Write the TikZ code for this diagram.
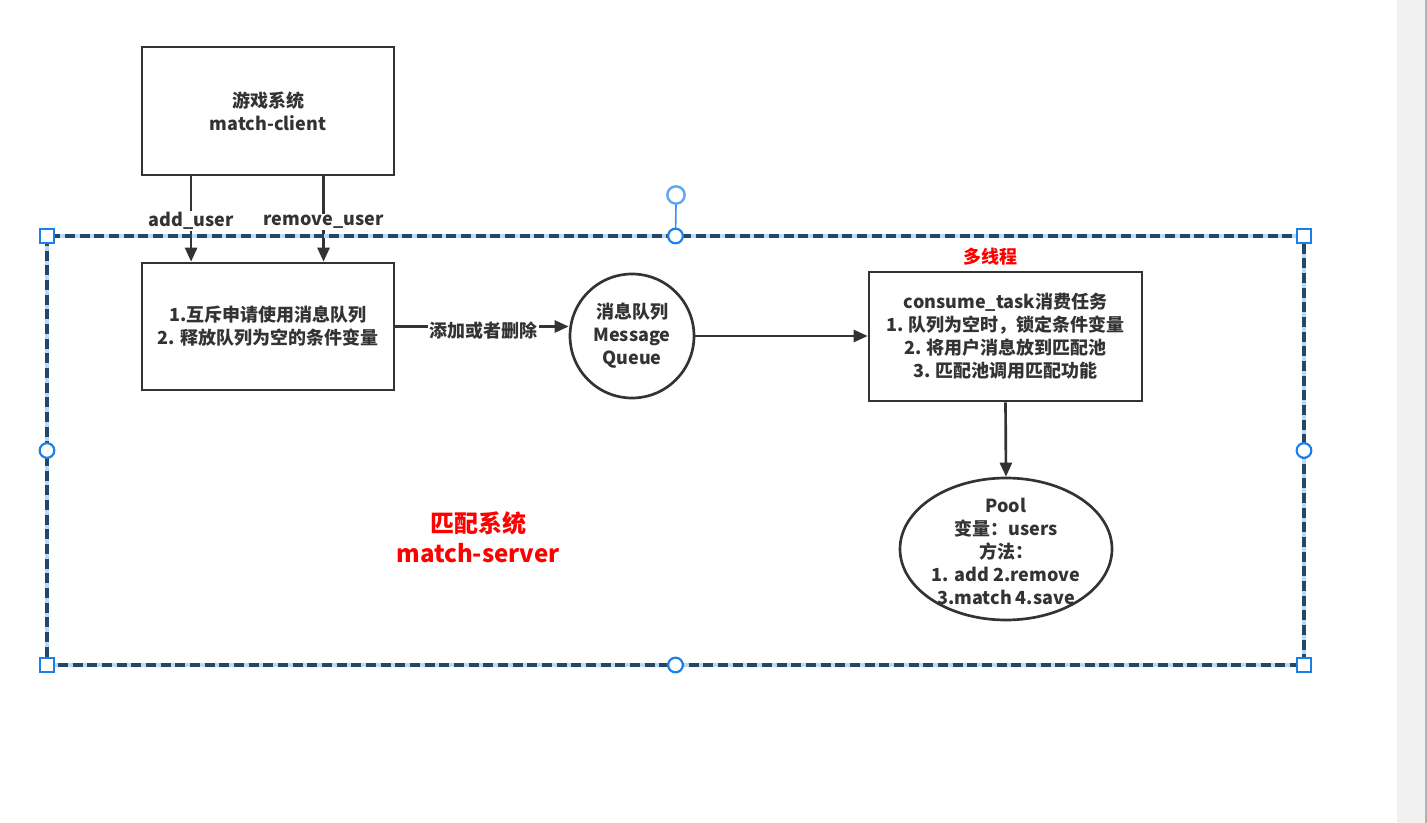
\documentclass[tikz,border=0pt]{standalone}
\usepackage{fontspec}
\setmainfont{Noto Sans CJK SC}
\usetikzlibrary{arrows.meta,shapes.geometric,calc}
\definecolor{txt}{HTML}{333333}
\definecolor{redtxt}{HTML}{FF0000}
\definecolor{dashdark}{HTML}{244668}
\definecolor{halo}{HTML}{B8D9F7}
\definecolor{handleblue}{HTML}{1A7FE8}
\definecolor{stripgray}{HTML}{F1F1F1}
\tikzset{
  basefont/.style={font=\bfseries\fontsize{13.5pt}{17.25pt}\selectfont, text=txt},
  box/.style={basefont, draw=txt, line width=2pt, fill=white, rectangle, inner sep=0pt, align=center},
  roundbox/.style={draw=txt, line width=2pt, fill=white, inner sep=0pt},
  inlabel/.style={basefont, align=center, inner sep=0pt},
  conn/.style={draw=txt, line width=2pt, -{Triangle[length=10.5pt,width=9pt]}},
  edgelabel/.style={basefont, fill=white, inner sep=1pt},
  redlabel/.style={font=\bfseries\fontsize{13.5pt}{17pt}\selectfont, text=redtxt},
  bigred/.style={font=\bfseries\fontsize{18pt}{22.5pt}\selectfont, text=redtxt, align=center},
  sqhandle/.style={draw=handleblue, fill=white, line width=1.6pt, minimum size=11pt, inner sep=0pt, rectangle},
  cirhandle/.style={draw=handleblue, fill=white, line width=1.6pt, minimum size=11pt, inner sep=0pt, circle},
}
\begin{document}
\begin{tikzpicture}[x=0.75pt,y=-0.75pt]
\useasboundingbox (0,0) rectangle (1427,823);
\fill[white] (0,0) rectangle (1427,823);
\fill[stripgray] (1397,0) rectangle (1427,823);
\fill[gray!60] (1425,0) rectangle (1427,823);

% nodes
\node[box, minimum width=189pt, minimum height=96pt] (client) at (268,111) {游戏系统\\match-client};
\node[box, minimum width=189pt, minimum height=95.25pt] (mutex) at (268,326.5) {1.互斥申请使用消息队列\\2. 释放队列为空的条件变量};
\node[roundbox, circle, minimum size=93pt] (mq) at (632,336) {};
\node[inlabel] (mqtext) at (632,336) {消息队列\\Message\\Queue};
\node[box, minimum width=204.75pt, minimum height=96.75pt] (task) at (1005.5,336.5) {consume\_task消费任务\\1. 队列为空时，锁定条件变量\\2. 将用户消息放到匹配池\\3. 匹配池调用匹配功能};
\node[roundbox, ellipse, minimum width=159pt, minimum height=106.5pt] (pool) at (1006,549) {};
\node[inlabel] (pooltext) at (1006,551) {Pool\\变量：users\\方法：\\1. add 2.remove\\3.match 4.save};
\node[redlabel] (multi) at (990,257) {多线程};
\node[bigred] (server) at (478,537) {匹配系统\\match-server};

% connectors
\draw[conn] ($(client.south west)!0.198!(client.south east)$) -- node[edgelabel, pos=0.52] (addl) {add\_user} ($(mutex.north west)!0.198!(mutex.north east)$);
\draw[conn] ($(client.south west)!0.718!(client.south east)$) -- node[edgelabel, pos=0.53] (reml) {remove\_user} ($(mutex.north west)!0.718!(mutex.north east)$);
\draw[conn] (mutex.east) -- node[edgelabel, pos=0.51, yshift=-3pt] (addrm) {添加或者删除} (mutex.east -| mq.west);
\draw[conn] (mq.east) -- (mq.east -| task.west);
\draw[conn] (task.south) -- (pool.north);

% container (selected)
\node[draw=halo, line width=2.4pt, rectangle, minimum width=942.75pt, minimum height=321.75pt, inner sep=0pt, outer sep=0pt] (frame) at (675.5,450.5) {};
\draw[dashdark, line width=2.3pt, dash pattern=on 7.5pt off 3.5pt] (frame.north west) rectangle (frame.south east);

% rotation handle
\node[draw=handleblue!70, line width=1.8pt, circle, minimum size=13pt, inner sep=0pt, fill=white] (rot) at (676,195) {};
\draw[handleblue!85, line width=1.2pt] (rot.south) -- (frame.north);

% selection handles
\node[sqhandle] (h1) at (frame.north west) {};
\node[sqhandle] (h2) at (frame.north east) {};
\node[sqhandle] (h3) at (frame.south west) {};
\node[sqhandle] (h4) at (frame.south east) {};
\node[cirhandle] (h5) at (frame.north) {};
\node[cirhandle] (h6) at (frame.south) {};
\node[cirhandle] (h7) at (frame.west) {};
\node[cirhandle] (h8) at (frame.east) {};
\end{tikzpicture}
\end{document}
